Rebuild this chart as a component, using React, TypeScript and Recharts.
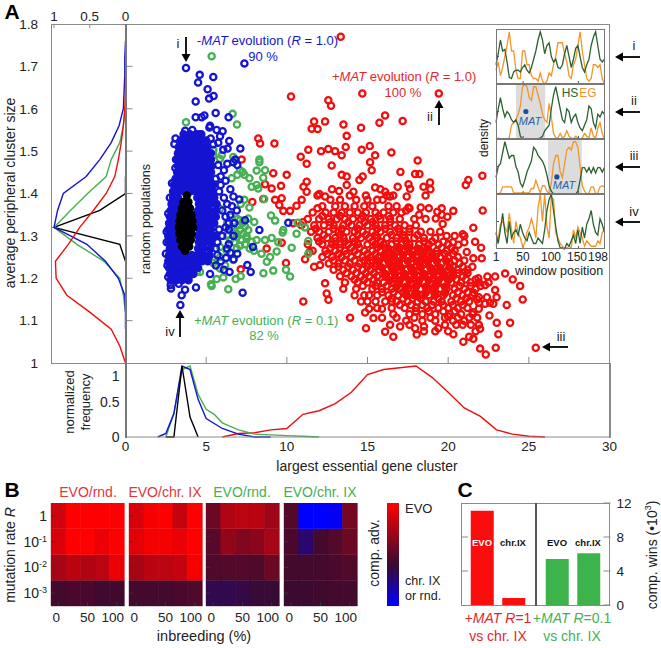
import React from 'react';
import {
  Bar,
  BarChart,
  Cell,
  Line,
  LineChart,
  ReferenceArea,
  ReferenceDot,
  Scatter,
  ScatterChart,
  XAxis,
  YAxis,
} from 'recharts';

const FONT = '"Liberation Sans", Arial, sans-serif';
const RED = '#f20d0d';
const GREEN = '#46b052';
const BLUE = '#1414d2';
const BLACK = '#000000';
const GREY = '#8a8a8a';
const INSET_GREEN = '#2c6232';
const INSET_ORANGE = '#f0962a';

type Rows = [number, number[]][];

// panel A scatter: rows of [y, xs] for the dense parts, pairs for the strays
const redRows: Rows = [
  [1.41, [12.8, 15.8, 18.9]],
  [1.395, [11.9, 13.9, 14.9, 16.2, 16.6, 18.6]],
  [1.385, [12.7, 13.3, 14.3, 15.0, 15.6]],
  [1.37, [12.2, 13.0, 13.6, 14.2, 14.8, 15.3, 16.3, 16.8]],
  [1.365, [11.9, 17.6, 18.8, 19.6]],
  [1.355, [11.6, 12.4, 12.9, 13.4, 13.9, 14.4, 14.9, 15.5, 16.0, 16.6, 17.1]],
  [1.35, [18.2, 19.6]],
  [1.34, [11.3, 12.0, 12.6, 13.1, 13.6, 14.1, 14.6, 15.2, 15.8, 16.4, 17.0, 17.9, 18.6]],
  [1.325, [10.9, 11.7, 12.3, 12.9, 13.5, 14.0, 14.5, 15.0, 15.5, 16.1, 16.7, 17.3, 18.0]],
  [1.31, [11.5, 12.0, 12.6, 13.2, 13.7, 14.2, 14.7, 15.3, 15.8, 16.4, 17.0, 17.6, 18.3, 18.9, 19.5]],
  [1.3, [19.9, 20.4, 21.0]],
  [1.295, [11.9, 12.5, 13.0, 13.5, 14.1, 14.6, 15.1, 15.6, 16.2, 16.8, 17.3, 17.9, 18.5, 19.2]],
  [1.285, [20.3, 21.0]],
  [1.28, [11.3, 12.2, 12.8, 13.3, 13.8, 14.4, 15.0, 15.5, 16.0, 16.5, 17.1, 17.6, 18.2, 18.8, 19.4, 20.0]],
  [1.265, [11.6, 12.4, 13.0, 13.6, 14.2, 14.8, 15.3, 15.8, 16.3, 16.8, 17.3, 17.8, 18.3, 18.8, 19.3, 19.9, 20.4]],
  [1.25, [12.2, 12.8, 13.4, 14.0, 14.7, 15.2, 15.7, 16.1, 16.6, 17.0, 17.5, 18.0, 18.5, 19.0, 19.5, 20.0, 20.6]],
  [1.235, [12.6, 13.2, 13.9, 14.5, 15.0, 15.5, 16.0, 16.4, 16.9, 17.3, 17.7, 18.2, 18.6, 19.1, 19.6, 20.1, 20.7]],
  [1.22, [12.9, 13.5, 14.1, 14.7, 15.2, 15.7, 16.2, 16.6, 17.0, 17.4, 17.8, 18.2, 18.6, 19.0, 19.5, 20.0, 20.6, 21.2]],
  [1.205, [13.3, 14.0, 14.6, 15.1, 15.6, 16.1, 16.5, 16.9, 17.3, 17.7, 18.1, 18.5, 18.9, 19.3, 19.8, 20.3, 20.9]],
  [1.19, [13.6, 14.4, 15.0, 15.6, 16.0, 16.5, 16.9, 17.3, 17.7, 18.1, 18.5, 18.9, 19.3, 19.7, 20.2, 20.8, 21.4, 21.9, 22.5]],
  [1.175, [13.5, 14.3, 15.3, 15.9, 16.5, 17.0, 17.5, 17.9, 18.3, 18.7, 19.1, 19.5, 19.9, 20.4, 21.0, 21.7]],
  [1.16, [14.2, 14.8, 15.1, 15.6, 16.3, 16.9, 17.4, 17.9, 18.4, 18.8, 19.2, 19.7, 20.3, 20.9, 21.5]],
  [1.155, [21.9, 22.4, 23.0]],
  [1.145, [14.6, 15.0, 15.5, 16.1, 16.5, 16.8, 17.5, 18.1, 18.6, 19.1, 19.6, 20.2, 20.8, 21.3]],
  [1.142, [21.9, 22.6]],
  [1.13, [15.6, 16.5, 17.3, 18.0, 18.7, 19.4, 20.0, 20.6, 21.2]],
  [1.128, [15.1, 15.9, 21.9]],
  [1.115, [16.6, 17.6, 18.4, 19.2, 20.1, 20.8, 21.5]],
  [1.107, [15.9, 16.8, 17.9, 18.9, 19.8, 20.6, 21.3, 21.8]],
  [1.1, [17.4, 18.4, 19.2, 20.3, 21.0]],
  [1.09, [16.4, 17.6, 19.8, 20.5, 21.4, 21.9]],
  [1.075, [18.5, 19.2, 20.0, 21.7]],
  [1.347, [12.2, 13.3, 14.7, 15.7, 16.3]],
  [1.332, [11.0, 12.7, 13.8, 14.8, 15.3, 16.4]],
  [1.317, [11.8, 12.9, 13.4, 14.4, 15.6, 16.1, 16.9, 17.6]],
  [1.302, [12.3, 13.3, 14.4, 14.9, 15.5, 16.5, 17.2, 18.1]],
  [1.287, [12.0, 13.0, 13.6, 14.2, 15.3, 15.8, 16.8, 17.4, 18.5, 19.0]],
  [1.272, [12.7, 13.3, 14.0, 14.5, 15.6, 16.1, 17.0, 17.6, 18.5, 19.6, 20.2]],
  [1.257, [12.5, 13.2, 13.7, 14.4, 15.0, 15.5, 16.4, 19.3, 19.8, 20.3]],
  [1.242, [12.9, 13.6, 14.2, 14.8, 15.3, 20.4, 21.0]],
  [1.227, [13.2, 13.8, 14.4, 15.0, 15.5, 20.3, 20.9, 21.5]],
  [1.212, [13.7, 14.3, 14.9, 15.4, 20.6, 21.2]],
  [1.197, [14.2, 14.8, 15.4, 20.5, 21.1, 21.7]],
  [1.182, [14.7, 15.5, 16.2, 20.7, 21.4, 22.0]],
  [1.167, [15.9, 16.6, 17.2, 20.6, 21.2]],
  [1.152, [16.5, 17.2, 17.8, 18.3, 19.4, 20.5, 21.1]],
  [1.137, [17.0, 17.7, 18.4, 19.0, 19.7, 20.3, 20.9]],
  [1.122, [18.0, 18.8, 19.7, 20.4]],
];
// the solid heart of the red cloud, where rings overlap with no gaps left
const redCoreRows: Rows = [
  [1.27, [16.3, 16.9, 17.5, 18.1, 18.7]],
  [1.255, [16.0, 16.6, 17.2, 17.8, 18.4, 19.0]],
  [1.24, [15.7, 16.3, 16.9, 17.5, 18.1, 18.7, 19.3, 19.9]],
  [1.225, [15.9, 16.5, 17.1, 17.7, 18.3, 18.9, 19.5, 20.1]],
  [1.21, [16.1, 16.7, 17.3, 17.9, 18.5, 19.1, 19.7, 20.3]],
  [1.195, [16.4, 17.0, 17.6, 18.2, 18.8, 19.4, 20.0]],
  [1.18, [16.8, 17.4, 18.0, 18.6, 19.2, 19.8]],
  [1.165, [17.4, 18.0, 18.6, 19.2, 19.8]],
];
const redStrays: [number, number][] = [
  [10.26, 1.629], [12.57, 1.62], [11.69, 1.57], [12.37, 1.57], [11.54, 1.553], [11.91, 1.552], [8.23, 1.53], [8.34, 1.518],
  [9.23, 1.518], [11.33, 1.503], [12.12, 1.5], [12.57, 1.505], [10.86, 1.487], [11.23, 1.47], [12.78, 1.466], [7.2, 1.48],
  [9.16, 1.448], [9.99, 1.444], [8.65, 1.422], [9.64, 1.418], [11.23, 1.428], [11.03, 1.416], [11.23, 1.404], [9.06, 1.412],
  [9.68, 1.389], [8.54, 1.387], [9.27, 1.385], [9.53, 1.373], [7.86, 1.38], [10.92, 1.385], [12.01, 1.399], [12.37, 1.393],
  [9.78, 1.359], [10.2, 1.359], [10.6, 1.371], [8.75, 1.27], [9.68, 1.284], [9.95, 1.236], [7.14, 1.221], [11.69, 1.227],
  [12.06, 1.231], [12.37, 1.188], [12.47, 1.164], [12.58, 1.149], [11.02, 1.145], [11.13, 1.245], [11.4, 1.262], [10.4, 1.33],
  [13.34, 1.77], [14.68, 1.636], [19.42, 1.636], [12.74, 1.607], [16.09, 1.584], [15.74, 1.567], [17.18, 1.571], [13.51, 1.563],
  [14.6, 1.555], [13.71, 1.536], [13.65, 1.51], [14.64, 1.503], [15.14, 1.512], [15.47, 1.49], [16.48, 1.497], [12.99, 1.5],
  [13.4, 1.49], [15.16, 1.474], [15.26, 1.455], [18.11, 1.478], [17.04, 1.451], [17.95, 1.446], [18.22, 1.446], [22.12, 1.442],
  [21.25, 1.432], [21.09, 1.42], [18.88, 1.426], [18.47, 1.416], [17.54, 1.422], [16.87, 1.416], [15.47, 1.414], [14.7, 1.44],
  [14.5, 1.432], [13.71, 1.44], [13.4, 1.444], [13.71, 1.42], [13.24, 1.406], [14.13, 1.404], [16.09, 1.404], [15.94, 1.385],
  [16.4, 1.393], [17.43, 1.393], [17.64, 1.411], [18.3, 1.367], [17.54, 1.367], [17.39, 1.36], [22.14, 1.36], [20.32, 1.359],
  [19.33, 1.357], [19.95, 1.345], [19.23, 1.341], [19.66, 1.328], [21.56, 1.319], [20.9, 1.304], [21.67, 1.286], [22.04, 1.272],
  [20.63, 1.279], [19.7, 1.286], [21.15, 1.262], [22.08, 1.247], [21.56, 1.247], [21.05, 1.215], [23.53, 1.211], [24.0, 1.197],
  [24.46, 1.182], [24.62, 1.15], [22.43, 1.204], [22.91, 1.204], [21.87, 1.2], [22.29, 1.184], [22.91, 1.172], [21.6, 1.165],
  [22.8, 1.14], [23.63, 1.137], [22.29, 1.14], [21.8, 1.15], [21.56, 1.12], [22.56, 1.112], [23.01, 1.095], [23.84, 1.095],
  [23.11, 1.068], [21.98, 1.081], [22.95, 1.036], [21.98, 1.034], [22.33, 1.02], [25.43, 1.036], [21.56, 1.057], [20.94, 1.05],
  [20.32, 1.068], [18.05, 1.067], [16.6, 1.062], [16.09, 1.074], [14.91, 1.082], [13.92, 1.107], [14.85, 1.119], [15.37, 1.106],
  [17.02, 1.086], [17.95, 1.082], [18.5, 1.086], [19.39, 1.082], [20.0, 1.11], [20.9, 1.09], [21.3, 1.062],
];

const greenPoints: [number, number][] = [
  [5.34, 1.724], [3.75, 1.568], [6.64, 1.588], [6.91, 1.563], [5.44, 1.503], [5.97, 1.49], [6.68, 1.486], [8.3, 1.48], [8.3, 1.474],
  [8.13, 1.454], [8.65, 1.455], [8.54, 1.437], [7.26, 1.451], [7.37, 1.444], [6.93, 1.444], [7.68, 1.436], [6.58, 1.436], [8.13, 1.42],
  [7.82, 1.416], [8.23, 1.412], [8.6, 1.387], [7.68, 1.367], [7.37, 1.385], [7.14, 1.375], [5.86, 1.364], [9.02, 1.348], [9.27, 1.336],
  [7.98, 1.333], [7.61, 1.341], [7.1, 1.337], [6.68, 1.333], [7.0, 1.325], [7.41, 1.322], [7.61, 1.314], [9.78, 1.314], [9.74, 1.308],
  [10.67, 1.331], [10.6, 1.305], [11.33, 1.288], [11.13, 1.32], [11.33, 1.258], [10.3, 1.272], [8.65, 1.29], [9.06, 1.295], [9.47, 1.285],
  [8.13, 1.29], [7.82, 1.286], [7.51, 1.294], [7.97, 1.265], [8.43, 1.258], [8.96, 1.25], [9.37, 1.263], [8.76, 1.239], [8.55, 1.212],
  [9.16, 1.218], [9.95, 1.22], [10.2, 1.204], [6.37, 1.174], [5.34, 1.182], [5.3, 1.186], [6.83, 1.198], [7.14, 1.205], [5.65, 1.198],
  [6.06, 1.202], [5.86, 1.223], [6.17, 1.23], [6.68, 1.243], [5.44, 1.236], [4.62, 1.215], [4.42, 1.215], [5.86, 1.25], [5.44, 1.243],
  [7.1, 1.314], [6.68, 1.305], [7.41, 1.28], [6.47, 1.29], [5.86, 1.274], [6.27, 1.265], [7.1, 1.277], [6.48, 1.314], [6.89, 1.297],
  [5.44, 1.49], [5.86, 1.482], [5.44, 1.502], [7.1, 1.455], [6.9, 1.305], [6.6, 1.32], [7.3, 1.305], [6.3, 1.3], [6.75, 1.285],
  [7.25, 1.33], [6.95, 1.34], [7.5, 1.3], [7.2, 1.29], [6.5, 1.345], [6.3, 1.33], [7.7, 1.27], [6.9, 1.27],
];

const blueRows: Rows = [
  [1.54, [3.6, 4.0, 4.4, 4.7]],
  [1.525, [3.4, 3.8, 4.2, 4.6, 5.0]],
  [1.51, [3.3, 3.65, 4.0, 4.35, 4.7, 5.05]],
  [1.495, [3.25, 3.6, 3.95, 4.3, 4.65, 5.0, 5.3]],
  [1.48, [3.2, 3.55, 3.9, 4.25, 4.6, 4.95, 5.3]],
  [1.465, [3.25, 3.6, 3.95, 4.3, 4.65, 5.0, 5.35]],
  [1.45, [3.2, 3.55, 3.9, 4.25, 4.6, 4.95, 5.3]],
  [1.435, [3.1, 3.45, 3.8, 4.15, 4.5, 4.85, 5.2]],
  [1.42, [3.0, 3.35, 3.7, 4.05, 4.4, 4.75, 5.1, 5.45]],
  [1.405, [2.95, 3.3, 3.65, 4.0, 4.35, 4.7, 5.05, 5.4]],
  [1.39, [2.95, 3.25, 4.45, 4.8, 5.15, 5.5]],
  [1.375, [2.85, 3.15, 3.4, 4.55, 4.9, 5.25, 5.65]],
  [1.36, [2.8, 3.1, 4.5, 4.85, 5.2, 5.6]],
  [1.345, [2.75, 3.05, 4.55, 4.9, 5.25, 5.6]],
  [1.33, [2.7, 3.0, 4.5, 4.8, 5.15, 5.5]],
  [1.315, [2.65, 2.95, 4.6, 4.95, 5.3]],
  [1.3, [2.65, 3.0, 4.5, 4.85, 5.2, 5.6]],
  [1.285, [2.7, 3.05, 4.55, 4.9, 5.3]],
  [1.27, [2.75, 3.1, 3.4, 4.5, 4.85, 5.25]],
  [1.255, [2.7, 3.05, 3.4, 3.75, 4.1, 4.45, 4.8, 5.2]],
  [1.24, [2.65, 3.0, 3.35, 3.7, 4.05, 4.4, 4.75, 5.1]],
  [1.225, [2.7, 3.05, 3.4, 3.75, 4.1, 4.5]],
  [1.21, [2.75, 3.1, 3.45, 3.8, 4.2]],
  [1.195, [2.8, 3.15, 3.5, 3.9]],
];
const blueStrays: [number, number][] = [
  [3.75, 1.696], [7.37, 1.707], [4.6, 1.68], [4.5, 1.662], [5.44, 1.675], [5.09, 1.646], [5.18, 1.624], [5.46, 1.63], [4.35, 1.617],
  [5.59, 1.59], [4.35, 1.58], [4.89, 1.584], [4.72, 1.58], [6.39, 1.58], [5.24, 1.56], [5.2, 1.556], [5.65, 1.55], [6.02, 1.547],
  [5.28, 1.53], [5.86, 1.535], [5.75, 1.52], [6.43, 1.524], [5.44, 1.516], [7.12, 1.506], [6.33, 1.506], [6.06, 1.503], [6.8, 1.48],
  [6.68, 1.474], [6.31, 1.47], [6.93, 1.467], [5.75, 1.467], [6.1, 1.455], [3.1, 1.53], [3.03, 1.517], [3.7, 1.548], [4.14, 1.55],
  [4.6, 1.54], [4.04, 1.537], [3.13, 1.48], [3.09, 1.46], [2.88, 1.424], [2.75, 1.39], [2.65, 1.353], [2.55, 1.31], [2.55, 1.285],
  [2.5, 1.258], [2.6, 1.23], [2.65, 1.203], [2.8, 1.184], [2.82, 1.176], [3.3, 1.187], [3.69, 1.173], [3.48, 1.16], [3.4, 1.137],
  [3.89, 1.197], [4.37, 1.178], [7.26, 1.166], [5.24, 1.21], [7.55, 1.231], [7.76, 1.215], [7.9, 1.274], [6.93, 1.258], [6.23, 1.248],
  [5.18, 1.252], [7.41, 1.337], [8.3, 1.314], [10.09, 1.331], [7.05, 1.386], [6.69, 1.393], [6.5, 1.35], [6.7, 1.3], [6.4, 1.28],
  [5.6, 1.435], [5.9, 1.42], [5.8, 1.405], [6.1, 1.39], [6.3, 1.375], [6.0, 1.36], [6.2, 1.345], [5.8, 1.315], [6.4, 1.315], [6.0, 1.3],
  [5.7, 1.285], [5.6, 1.27], [6.3, 1.27], [5.7, 1.255], [5.9, 1.44], [6.2, 1.43], [6.5, 1.41], [6.6, 1.37], [6.9, 1.36], [6.75, 1.33],
  [6.2, 1.32], [6.4, 1.33], [6.5, 1.26], [6.7, 1.245], [6.1, 1.22], [5.6, 1.23], [5.9, 1.24], [6.45, 1.215],
];

const blackRows: Rows = [
  [1.395, [3.8]],
  [1.38, [3.6, 3.9]],
  [1.365, [3.5, 3.75, 4.0]],
  [1.35, [3.4, 3.65, 3.9, 4.1]],
  [1.335, [3.35, 3.6, 3.85, 4.15]],
  [1.32, [3.3, 3.55, 3.8, 4.05, 4.2]],
  [1.305, [3.35, 3.6, 3.85, 4.1]],
  [1.29, [3.4, 3.65, 3.9, 4.05]],
  [1.275, [3.5, 3.75, 3.95]],
  [1.265, [3.7]],
];

// left marginal: normalized frequency against cluster size
const clusterSizes = [1.76, 1.72, 1.68, 1.64, 1.6, 1.56, 1.52, 1.48, 1.44, 1.4, 1.36, 1.32, 1.28, 1.24, 1.2, 1.16, 1.12, 1.08, 1.04, 1.0];
const sizeBlue = [0, 0.01, 0.01, 0.02, 0.03, 0.09, 0.2, 0.36, 0.55, 0.87, 0.95, 1, 0.54, 0.28, 0.1, 0.01, 0, 0, null, null];
const sizeGreen = [null, null, null, null, 0, 0.03, 0.08, 0.2, 0.27, 0.53, 0.77, 1, 0.68, 0.3, 0.08, 0.03, 0, null, null, null];
const sizeRed = [null, null, 0, 0, 0.01, 0.03, 0.06, 0.1, 0.15, 0.27, 0.45, 0.64, 0.8, 0.98, 0.97, 0.82, 0.5, 0.2, 0.08, 0];
const sizeBlack = [null, null, null, null, null, null, null, null, 0, 0, 0.36, 1, 0.08, 0, null, null, null, null, null, null];

// bottom marginal: normalized frequency against largest cluster
const geneRed: [number, number][] = [[6, 0], [7, 0.05], [8, 0.06], [9, 0.1], [10, 0.12], [11, 0.32], [12, 0.37], [13, 0.47], [14, 0.63], [15, 0.88], [16, 0.95], [18, 1], [19, 0.84], [20, 0.63], [21, 0.41], [22, 0.29], [23, 0.1], [24, 0.04], [25, 0.01], [26, 0]];
const geneBlue: [number, number][] = [[2, 0], [2.5, 0.05], [3, 0.33], [3.5, 1], [4, 0.95], [4.5, 0.53], [5, 0.26], [6, 0.12], [7, 0.04], [8, 0], [9, 0]];
const geneGreen: [number, number][] = [[2.5, 0], [3, 0.33], [3.5, 0.95], [4, 1], [4.5, 0.6], [5, 0.39], [5.5, 0.32], [6, 0.2], [7, 0.1], [8, 0.04], [9, 0.03], [10, 0.02], [11, 0.01], [12, 0]];
const geneBlack: [number, number][] = [[2.5, 0], [3, 0], [3.5, 1], [4, 0.28], [4.5, 0]];

// inset density profiles
const windows = [1, 5, 9, 13, 17, 21, 25, 29, 33, 37, 41, 45, 49, 53, 57, 61, 65, 69, 73, 77, 81, 85, 89, 93, 97, 101, 105, 109, 113, 117, 121, 125, 129, 133, 137, 141, 145, 149, 153, 157, 161, 165, 169, 173, 177, 181, 185, 189, 193, 197];
const hsI = [0.35, 0.55, 0.8, 0.6, 0.63, 0.4, 0.12, 0.1, 0.22, 0.25, 0.25, 0.22, 0.3, 0.35, 0.25, 0.2, 0.3, 0.45, 0.6, 0.8, 0.95, 0.8, 0.55, 0.7, 0.75, 0.5, 0.4, 0.45, 0.3, 0.28, 0.35, 0.55, 0.7, 0.5, 0.3, 0.45, 0.65, 0.7, 0.5, 0.3, 0.22, 0.35, 0.45, 0.7, 0.85, 0.95, 0.7, 0.45, 0.4, 0.45];
const egI = [0.25, 0.4, 0.15, 0.3, 0.5, 0.7, 0.95, 0.6, 0.6, 0.25, 0.1, 0.1, 0.6, 0.6, 0.35, 0.35, 0.15, 0.1, 0.1, 0.05, 0.2, 0.05, 0, 0.05, 0.2, 0.15, 0.35, 0.5, 0.75, 0.75, 0.75, 0.55, 0.4, 0.15, 0.1, 0.35, 0.45, 0.7, 0.95, 0.6, 0.35, 0.1, 0.05, 0.1, 0.35, 0.35, 0.3, 0.35, 0.1, 0];
const hsII = [0.3, 0.55, 0.75, 0.55, 0.4, 0.5, 0.45, 0.35, 0.3, 0.35, 0.25, 0.05, 0, 0, 0, 0, 0, 0, 0, 0, 0.02, 0.05, 0.15, 0.2, 0.25, 0.55, 0.8, 0.95, 0.75, 0.55, 0.35, 0.3, 0.55, 0.5, 0.3, 0.4, 0.45, 0.3, 0.2, 0.15, 0.25, 0.35, 0.6, 0.55, 0.3, 0.2, 0.45, 0.4, 0.5, 0.45];
const egII = [0, 0.02, 0, 0, 0, 0, 0.02, 0.25, 0.3, 0.35, 0.45, 0.6, 0.95, 1, 0.95, 0.75, 0.7, 0.95, 0.95, 0.8, 0.65, 0.45, 0.35, 0.3, 0.65, 0.4, 0.1, 0.02, 0.02, 0.1, 0.02, 0.05, 0.15, 0.05, 0.02, 0, 0.05, 0.02, 0, 0.02, 0.1, 0.05, 0.02, 0.2, 0.05, 0.02, 0.2, 0.3, 0.1, 0];
const hsIII = [0.3, 0.5, 0.55, 0.75, 0.95, 0.8, 0.65, 0.7, 0.7, 0.5, 0.4, 0.2, 0.13, 0.25, 0.4, 0.5, 0.6, 0.85, 0.8, 0.7, 0.65, 0.6, 0.5, 0.35, 0.15, 0.05, 0, 0, 0, 0, 0, 0, 0, 0, 0, 0, 0, 0.05, 0.25, 0.48, 0.48, 0.4, 0.48, 0.38, 0.48, 0.38, 0.48, 0.48, 0.4, 0.48];
const egIII = [0, 0, 0.02, 0.13, 0.13, 0.13, 0.13, 0.13, 0.02, 0.02, 0.02, 0.02, 0.02, 0.02, 0.02, 0.02, 0.1, 0.1, 0.25, 0.13, 0.02, 0.15, 0.15, 0.05, 0, 0.2, 0.55, 0.7, 0.7, 0.4, 0.3, 0.55, 0.8, 0.85, 0.8, 0.95, 0.95, 0.85, 0.5, 0.15, 0.05, 0, 0.02, 0.13, 0.13, 0, 0.02, 0.13, 0.15, 0.13];
const hsIV = [0.3, 0.1, 0.35, 0.65, 0.3, 0.1, 0.5, 0.2, 0.3, 0.35, 0.25, 0.45, 0.3, 0.2, 0.15, 0.3, 0.2, 0.1, 0.1, 0.2, 0.15, 0.1, 0.35, 0.7, 0.9, 1, 0.7, 0.4, 0.15, 0.02, 0.02, 0, 0.1, 0.05, 0.15, 0.25, 0.1, 0.35, 0.1, 0.4, 0.2, 0.45, 0.55, 0.7, 0.45, 0.3, 0.25, 0.55, 0.45, 0.3];
const egIV = [0.05, 0.2, 0.45, 0.5, 0.4, 0.3, 0.65, 0.35, 0.1, 0.5, 0.3, 0.2, 0.05, 0.1, 0.3, 0.4, 0.55, 0.4, 0.2, 0.75, 1, 0.5, 1, 0.4, 0.2, 0.95, 0.9, 0.3, 0.2, 0.1, 0.05, 0.02, 0.02, 0.05, 0.02, 0.35, 0.2, 0.4, 0.3, 0.2, 0.05, 0.15, 0.1, 0.05, 0.05, 0.05, 0.15, 0.1, 0.3, 0.35];

// panel B: competitive advantage, rows R = 1 ... 10^-3, columns by inbreeding; +1 is EVO, -1 is chr. IX or rnd.
const inbreeding = ['0', '25', '50', '75', '100'];
const heatRedRnd = [
  [0.75, 1, 1, 1, 1],
  [0.8, 1, 1, 0.9, 1],
  [0.55, 0.65, 0.6, 0.65, 0.9],
  [0.05, 0.08, 0.08, 0.03, 0.03],
];
const heatRedIX = [
  [0.8, 0.95, 1, 0.7, 1],
  [0.85, 0.95, 0.95, 0.9, 1],
  [0.55, 0.65, 0.65, 0.7, 0.95],
  [0.05, 0.05, 0.05, 0.08, 0.1],
];
const heatGreenRnd = [
  [0.25, 0.6, 0.65, 0.65, 0.5],
  [0.15, 0.45, 0.35, 0.4, 0.55],
  [0.1, 0.12, 0.12, 0.1, 0.25],
  [-0.15, -0.15, -0.1, -0.03, -0.03],
];
const heatGreenIX = [
  [0.12, -1, -1, -0.95, 0.3],
  [0.08, -0.3, 0.05, 0.12, 0.25],
  [0.05, 0.05, 0.05, 0.08, 0.12],
  [0, 0, 0.03, 0.05, 0.05],
];

// panel C: competition wins in thousands
const winsHigh = [
  { name: 'EVO', wins: 11.1 },
  { name: 'chr.IX', wins: 0.82 },
];
const winsLow = [
  { name: 'EVO', wins: 5.4 },
  { name: 'chr.IX', wins: 6.1 },
];

const rowsToPoints = (rows: Rows) => rows.flatMap(([y, xs]) => xs.map((x) => ({ x, y })));
const pairsToPoints = (pairs: [number, number][]) => pairs.map(([x, y]) => ({ x, y }));
const sizeCurve = (values: (number | null)[]) =>
  values.flatMap((f, i) => (f === null ? [] : [{ f, y: clusterSizes[i] }]));
const profile = (values: number[]) => windows.map((w, i) => ({ w, v: values[i] }));

const heatColor = (v: number) => {
  if (v >= 0) return `rgb(${Math.round(58 + 197 * v)},${Math.round(10 * (1 - v))},${Math.round(48 * (1 - v))})`;
  return `rgb(${Math.round(58 * (1 + v))},${Math.round(10 * (1 + v))},${Math.round(48 - 207 * v)})`;
};

const ring = (color: string) => (p: any) => (
  <circle cx={p.cx} cy={p.cy} r={3.1} fill="none" stroke={color} strokeWidth={2.3} />
);
const disc = (color: string) => (p: any) => (
  <circle cx={p.cx} cy={p.cy} r={3.1} fill={color} stroke={color} strokeWidth={2.3} />
);
const noMark = () => <g />;
// tick marks without a label: tick={false} would drop the mark too
const blankTick = () => <g />;

function Note({ x, y, color = '#222', size = 13, rotate = 0, anchor = 'center', bold = false, children }: any) {
  const shift = anchor === 'center' ? -50 : anchor === 'end' ? -100 : 0;
  return (
    <div
      style={{
        position: 'absolute',
        left: x,
        top: y,
        transform: `translate(${shift}%,-50%)${rotate ? ` rotate(${rotate}deg)` : ''}`,
        whiteSpace: 'nowrap',
        fontFamily: FONT,
        fontSize: size,
        fontWeight: bold ? 700 : 400,
        color,
        lineHeight: 1.1,
      }}
    >
      {children}
    </div>
  );
}

const Box = ({ x, y, w, h, border = `1.5px solid ${GREY}` }: any) => (
  <div style={{ position: 'absolute', left: x, top: y, width: w, height: h, border, boxSizing: 'border-box', pointerEvents: 'none' }} />
);

function Arrow({ x1, y1, x2, y2 }: any) {
  const len = Math.hypot(x2 - x1, y2 - y1);
  const ux = (x2 - x1) / len;
  const uy = (y2 - y1) / len;
  const bx = x2 - ux * 8;
  const by = y2 - uy * 8;
  return (
    <g>
      <line x1={x1} y1={y1} x2={bx} y2={by} stroke="#000" strokeWidth={1.8} />
      <polygon points={`${x2},${y2} ${bx - uy * 4.5},${by + ux * 4.5} ${bx + uy * 4.5},${by - ux * 4.5}`} fill="#000" />
    </g>
  );
}

function ProfileChart({ top, hs, eg, area, dot }: any) {
  return (
    <div style={{ position: 'absolute', left: 495, top }}>
      <LineChart width={110} height={56} margin={{ top: 0, right: 0, bottom: 0, left: 0 }}>
        <XAxis type="number" dataKey="w" domain={[1, 198]} ticks={[50, 100, 150]} tick={blankTick} tickSize={-3} height={1} axisLine={false} stroke="#555" />
        <YAxis type="number" domain={[0, 1]} ticks={[0.5]} tick={blankTick} tickSize={-3} width={1} axisLine={false} stroke="#555" />
        {area && <ReferenceArea x1={area[0]} x2={area[1]} y1={0} y2={1} fill="#dcdcdc" fillOpacity={1} stroke="none" />}
        <Line data={profile(eg)} dataKey="v" stroke={INSET_ORANGE} strokeWidth={1.3} dot={false} isAnimationActive={false} />
        <Line data={profile(hs)} dataKey="v" stroke={INSET_GREEN} strokeWidth={1.3} dot={false} isAnimationActive={false} />
        {dot && <ReferenceDot x={dot[0]} y={dot[1]} r={2.6} fill="#1d4f9e" stroke="none" />}
      </LineChart>
      <Box x={1} y={0} w={109} h={55} border="1px solid #777" />
    </div>
  );
}

const rateLabels: Record<string, [string, string]> = {
  '3.5': ['1', ''],
  '2.5': ['10', '-1'],
  '1.5': ['10', '-2'],
  '0.5': ['10', '-3'],
};

const RateTick = (p: any) => {
  const [base, exp] = rateLabels[String(p.payload.value)];
  return (
    <text x={p.x} y={p.y + 5} textAnchor="end" fontSize={14} fontFamily={FONT} fill="#222">
      {base}
      {exp && (
        <tspan dy={-5} fontSize={9}>
          {exp}
        </tspan>
      )}
    </text>
  );
};

// the top "1" of the frequency axis sits just below its tick in the picture
const FreqTick = (p: any) => (
  <text x={p.x} y={p.y + (p.payload.value === 1 ? 12 : 5)} textAnchor="end" fontSize={14} fontFamily={FONT} fill="#222">
    {p.payload.value}
  </text>
);

// labels are pulled left of their column so 100 and the next panel's 0 stay apart
const inbreedingShift: Record<string, number> = { '0': -2, '50': 0, '100': -4 };
const InbreedingTick = (p: any) => (
  <text x={p.x + inbreedingShift[p.payload.value]} y={p.y + 11} textAnchor="middle" fontSize={13.5} fontFamily={FONT} fill="#222">
    {p.payload.value}
  </text>
);

const rowKeys = ['r3', 'r2', 'r1', 'r0'];
const heatData = inbreeding.map((c) => ({ c, r0: 1, r1: 1, r2: 1, r3: 1 }));

function HeatPanel({ left, heat, labelled }: any) {
  return (
    <div style={{ position: 'absolute', left: left - 45, top: 503 }}>
      <BarChart width={125} height={125} data={heatData} barCategoryGap={0} margin={{ top: 0, right: 6, bottom: 21, left: 44 }}>
        <XAxis dataKey="c" ticks={['0', '50', '100']} interval={0} tickSize={-4} tickMargin={9} height={1} axisLine={false} stroke="#333" tick={InbreedingTick} />
        <YAxis type="number" domain={[0, 4]} ticks={[0.5, 1.5, 2.5, 3.5]} tickSize={-4} tickMargin={8} width={1} axisLine={false} stroke="#333" tick={labelled ? RateTick : blankTick} />
        <YAxis yAxisId="right" orientation="right" type="number" domain={[0, 4]} ticks={[0.5, 1.5, 2.5, 3.5]} tickSize={-4} width={1} axisLine={false} stroke="#333" tick={blankTick} />
        {rowKeys.map((key, r) => (
          <Bar key={key} dataKey={key} stackId="rows" isAnimationActive={false}>
            {inbreeding.map((c, col) => {
              const fill = heatColor(heat[3 - r][col]);
              return <Cell key={c} fill={fill} stroke={fill} strokeWidth={0.4} />;
            })}
          </Bar>
        ))}
      </BarChart>
    </div>
  );
}

function WinsChart({ left, data, color, rightAxis }: any) {
  return (
    <div style={{ position: 'absolute', left: rightAxis ? left : left - 1, top: 493 }}>
      <BarChart width={rightAxis ? 74.5 + 30 : 75.5} height={122} data={data} margin={{ top: 10, right: rightAxis ? 29 : 0, bottom: 10, left: 0 }}>
        <XAxis dataKey="name" hide padding={{ left: 5.75, right: 5.75 }} />
        {rightAxis ? (
          <YAxis orientation="right" type="number" domain={[0, 12]} ticks={[0, 4, 8, 12]} tickSize={-7} tickMargin={13} width={1} axisLine={false} stroke={GREY} tick={{ fontSize: 13.5, fontFamily: FONT, fill: '#222' }} />
        ) : (
          <YAxis type="number" domain={[0, 12]} ticks={[4, 8]} tickSize={-7} tick={blankTick} width={1} axisLine={false} stroke={GREY} />
        )}
        <Bar dataKey="wins" fill={color} barSize={23} isAnimationActive={false} />
      </BarChart>
    </div>
  );
}

const MAT = () => <i>MAT</i>;

export default function App() {
  const axisText = { fontSize: 13.5, fontFamily: FONT, fill: '#222' };
  return (
    <div style={{ position: 'absolute', left: 0, top: 0, width: 661, height: 648, background: '#fff', overflow: 'hidden' }}>
      {/* panel A scatter */}
      <div style={{ position: 'absolute', left: 0, top: 0 }}>
        <ScatterChart width={661} height={400} margin={{ top: 24, right: 51.5, bottom: 36, left: 124.5 }}>
          <XAxis type="number" dataKey="x" domain={[0, 30]} ticks={[5, 10, 15, 20, 25]} tick={blankTick} tickSize={-6} height={1} axisLine={false} stroke={GREY} />
          <YAxis type="number" dataKey="y" domain={[1, 1.8]} ticks={[1.1, 1.2, 1.3, 1.4, 1.5, 1.6, 1.7]} tick={blankTick} tickSize={-7} width={1} axisLine={false} stroke={GREY} />
          <Scatter data={[...rowsToPoints(redRows), ...pairsToPoints(redStrays)]} shape={ring(RED)} isAnimationActive={false} />
          <Scatter data={rowsToPoints(redCoreRows)} shape={disc(RED)} isAnimationActive={false} />
          <Scatter data={pairsToPoints(greenPoints)} shape={ring(GREEN)} isAnimationActive={false} />
          <Scatter data={rowsToPoints(blueRows)} shape={disc(BLUE)} isAnimationActive={false} />
          <Scatter data={pairsToPoints(blueStrays)} shape={ring(BLUE)} isAnimationActive={false} />
          <Scatter data={rowsToPoints(blackRows)} shape={disc(BLACK)} isAnimationActive={false} />
        </ScatterChart>
      </div>

      {/* left marginal */}
      <div style={{ position: 'absolute', left: 0, top: 0 }}>
        <ScatterChart width={130} height={400} margin={{ top: 23, right: 4.5, bottom: 36, left: 50 }}>
          <XAxis xAxisId="top" orientation="top" type="number" dataKey="f" domain={[0, 1.042]} reversed ticks={[0, 0.5, 1]} tickSize={-4} tickMargin={7} height={1} axisLine={false} stroke={GREY} tick={{ fontSize: 13.5, fontFamily: FONT, fill: '#222' }} />
          <XAxis xAxisId="low" orientation="bottom" type="number" domain={[0, 1.042]} reversed ticks={[0.5, 1]} tickSize={-5} tick={blankTick} height={1} axisLine={false} stroke={GREY} />
          <YAxis type="number" dataKey="y" domain={[1, 1.8]} ticks={[1, 1.1, 1.2, 1.3, 1.4, 1.5, 1.6, 1.7, 1.8]} tickLine={false} tickMargin={7} width={1} axisLine={false} tick={axisText} />
          <Scatter xAxisId="top" data={sizeCurve(sizeBlack)} line={{ stroke: BLACK, strokeWidth: 1.4 }} shape={noMark} isAnimationActive={false} />
          <Scatter xAxisId="top" data={sizeCurve(sizeGreen)} line={{ stroke: GREEN, strokeWidth: 1.4 }} shape={noMark} isAnimationActive={false} />
          <Scatter xAxisId="top" data={sizeCurve(sizeBlue)} line={{ stroke: BLUE, strokeWidth: 1.4 }} shape={noMark} isAnimationActive={false} />
          <Scatter xAxisId="top" data={sizeCurve(sizeRed)} line={{ stroke: RED, strokeWidth: 1.4 }} shape={noMark} isAnimationActive={false} />
        </ScatterChart>
      </div>

      {/* bottom marginal */}
      <div style={{ position: 'absolute', left: 0, top: 360 }}>
        <LineChart width={661} height={110} margin={{ top: 6, right: 50.5, bottom: 32, left: 124.5 }}>
          <XAxis type="number" dataKey="x" domain={[0, 30]} ticks={[0, 5, 10, 15, 20, 25, 30]} tickSize={0} tickMargin={4} height={1} stroke={GREY} tick={axisText} />
          <YAxis type="number" domain={[0, 1]} ticks={[0, 0.5, 1]} tickSize={0} tickMargin={6} width={1} axisLine={false} stroke={GREY} tick={FreqTick} />
          <YAxis yAxisId="right" orientation="right" type="number" domain={[0, 1]} ticks={[0.5, 1]} tickSize={-7} tick={blankTick} width={1} axisLine={false} stroke={GREY} />
          <Line data={pairsToPoints(geneRed)} dataKey="y" stroke={RED} strokeWidth={1.4} dot={false} isAnimationActive={false} />
          <Line data={pairsToPoints(geneGreen)} dataKey="y" stroke={GREEN} strokeWidth={1.4} dot={false} isAnimationActive={false} />
          <Line data={pairsToPoints(geneBlue)} dataKey="y" stroke={BLUE} strokeWidth={1.4} dot={false} isAnimationActive={false} />
          <Line data={pairsToPoints(geneBlack)} dataKey="y" stroke={BLACK} strokeWidth={1.4} dot={false} isAnimationActive={false} />
        </LineChart>
      </div>

      <Box x={51} y={24} w={559} h={340} />
      <Box x={125} y={24} w={0} h={414} border="0.75px solid #777" />
      <Box x={609} y={363} w={0} h={75} />

      {/* inset */}
      <ProfileChart top={29} hs={hsI} eg={egI} />
      <ProfileChart top={84} hs={hsII} eg={egII} area={[37, 90]} dot={[55, 0.5]} />
      <ProfileChart top={139} hs={hsIII} eg={egIII} area={[95, 156]} dot={[111, 0.31]} />
      <ProfileChart top={194} hs={hsIV} eg={egIV} />
      <Note x={530} y={121} size={11} color="#2f5fa8"><MAT /></Note>
      <Note x={564} y={185} size={11} color="#2f5fa8"><MAT /></Note>
      <Note x={570} y={94} size={12} color={INSET_GREEN}>HS</Note>
      <Note x={588} y={94} size={12} color={INSET_ORANGE}>EG</Note>
      <Note x={496} y={258} size={12}>1</Note>
      <Note x={523} y={258} size={12}>50</Note>
      <Note x={551} y={258} size={12}>100</Note>
      <Note x={577} y={258} size={12}>150</Note>
      <Note x={598} y={258} size={12}>198</Note>
      <Note x={559} y={272} size={12.5}>window position</Note>
      <Note x={485} y={138} size={12} rotate={-90}>density</Note>

      {/* annotations */}
      <svg width={661} height={648} style={{ position: 'absolute', left: 0, top: 0, pointerEvents: 'none' }}>
        <Arrow x1={186} y1={37} x2={186} y2={62} />
        <Arrow x1={180} y1={337} x2={180} y2={310} />
        <Arrow x1={439} y1={125} x2={439} y2={100} />
        <Arrow x1={568} y1={347} x2={542} y2={347} />
        <Arrow x1={640} y1={57} x2={615} y2={57} />
        <Arrow x1={640} y1={112} x2={615} y2={112} />
        <Arrow x1={640} y1={167} x2={615} y2={167} />
        <Arrow x1={640} y1={222} x2={615} y2={222} />
      </svg>
      <Note x={178} y={44} size={13}>i</Note>
      <Note x={170} y={332} size={13}>iv</Note>
      <Note x={430} y={117} size={13}>ii</Note>
      <Note x={561} y={337} size={13}>iii</Note>
      <Note x={634} y={46} size={13}>i</Note>
      <Note x={634} y={101} size={13}>ii</Note>
      <Note x={634} y={156} size={13}>iii</Note>
      <Note x={634} y={212} size={13}>iv</Note>

      <Note x={197} y={41} anchor="start" color={BLUE} size={13}>-<MAT /> evolution (<i>R</i> = 1.0)</Note>
      <Note x={263} y={57} color={BLUE} size={13}>90 %</Note>
      <Note x={332} y={77} anchor="start" color="#e2262a" size={13}>+<MAT /> evolution (<i>R</i> = 1.0)</Note>
      <Note x={403} y={93} color="#e2262a" size={13}>100 %</Note>
      <Note x={194} y={321} anchor="start" color={GREEN} size={13}>+<MAT /> evolution (<i>R</i> = 0.1)</Note>
      <Note x={264} y={336} color={GREEN} size={13}>82 %</Note>
      <Note x={147} y={219} rotate={-90} size={12.5}>random populations</Note>

      <Note x={12} y={12} size={21} bold color="#000">A</Note>
      <Note x={12} y={490} size={21} bold color="#000">B</Note>
      <Note x={465} y={490} size={21} bold color="#000">C</Note>

      <Note x={11} y={193} rotate={-90} size={14}>average peripheral cluster size</Note>
      <Note x={70} y={402} rotate={-90} size={13}>normalized</Note>
      <Note x={86} y={402} rotate={-90} size={13}>frequency</Note>
      <Note x={367} y={467} size={14}>largest essential gene cluster</Note>

      {/* panel B */}
      <HeatPanel left={51} heat={heatRedRnd} labelled />
      <HeatPanel left={129} heat={heatRedIX} />
      <HeatPanel left={206} heat={heatGreenRnd} />
      <HeatPanel left={284} heat={heatGreenIX} />
      <Note x={88} y={493} color="#e2363c" size={14}>EVO/rnd.</Note>
      <Note x={165} y={493} color="#e2363c" size={14}>EVO/chr. IX</Note>
      <Note x={242} y={493} color={GREEN} size={14}>EVO/rnd.</Note>
      <Note x={320} y={493} color={GREEN} size={14}>EVO/chr. IX</Note>
      <Note x={11} y={555} rotate={-90} size={14}>mutation rate <i>R</i></Note>
      <Note x={204} y={637} size={14.5}>inbreeding (%)</Note>
      <div style={{ position: 'absolute', left: 387, top: 503, width: 12, height: 103, background: 'linear-gradient(#ff0000, #3a0a30 60%, #0000ff)' }} />
      <Note x={375} y={553} rotate={-90} size={14}>comp. adv.</Note>
      <Note x={405} y={509} anchor="start" size={13}>EVO</Note>
      <Note x={405} y={582} anchor="start" size={12.5}>chr. IX</Note>
      <Note x={405} y={597} anchor="start" size={12.5}>or rnd.</Note>

      {/* panel C */}
      <WinsChart left={461} data={winsHigh} color="#fb0d0d" />
      <WinsChart left={535.5} data={winsLow} color="#3cb44b" rightAxis />
      <Box x={461} y={503} w={149} h={103} />
      <Box x={535} y={503} w={0} h={103} border="0.75px solid #555" />
      <Note x={482} y={543} size={9.5} bold color="#fff">EVO</Note>
      <Note x={513} y={543} size={9.5} bold color="#111">chr.IX</Note>
      <Note x={557} y={543} size={9.5} bold color="#111">EVO</Note>
      <Note x={588} y={543} size={9.5} bold color="#111">chr.IX</Note>
      <Note x={498} y={619} size={14} color="#e2262a">+<MAT /> <i>R</i>=1</Note>
      <Note x={498} y={637} size={14} color="#e2262a">vs chr. IX</Note>
      <Note x={572} y={619} size={14} color={GREEN}>+<MAT /> <i>R</i>=0.1</Note>
      <Note x={572} y={637} size={14} color={GREEN}>vs chr. IX</Note>
      <Note x={652} y={555} rotate={-90} size={14}>comp. wins (•10<sup style={{ fontSize: 9 }}>3</sup>)</Note>
    </div>
  );
}
